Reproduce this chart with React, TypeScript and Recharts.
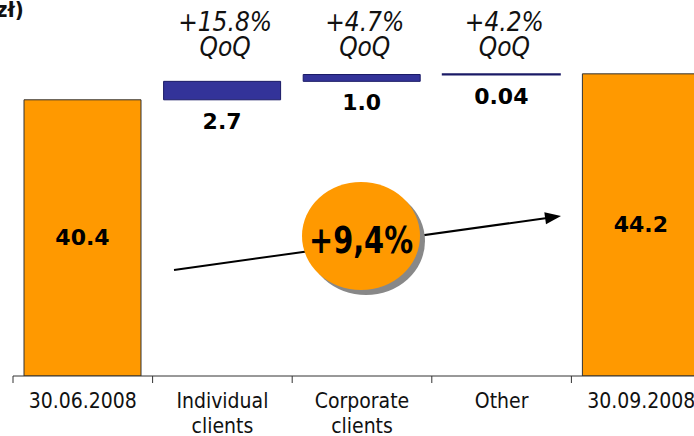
import React from "react";
import { BarChart, Bar, XAxis, YAxis, Cell, LabelList, Customized } from "recharts";

const categories = ["30.06.2008", "Individual clients", "Corporate clients", "Other", "30.09.2008"];
const values = [40.4, 2.7, 1.0, 0.04, 44.2];
const bases = [0, 40.4, 43.1, 44.1, 0];
const valueLabels = ["40.4", "2.7", "1.0", "0.04", "44.2"];
const qoqLabels = ["", "+15.8%", "+4.7%", "+4.2%", ""];
const isTotal = [true, false, false, false, true];

const data = categories.map((name, i) => ({
  name,
  base: bases[i],
  value: values[i],
}));

const CHART_W = 711;
const CHART_H = 436;
const LEFT = 13;
const BAND = (CHART_W - LEFT) / categories.length;

const ORANGE = "#FF9900";
const BLUE = "#333399";
const TEXT = "#111";

function CategoryTick(props: any) {
  const { x, y, payload } = props;
  const lines = String(payload.value).split(" ");
  return (
    <g>
      <line x1={x - BAND / 2} x2={x - BAND / 2} y1={y} y2={y + 7} stroke="#333" />
      <text
        x={x}
        y={y + 32}
        textAnchor="middle"
        fill={TEXT}
        fontSize={21}
        fontFamily="'DejaVu Sans Condensed', 'DejaVu Sans', sans-serif"
      >
        {lines.map((l, i) => (
          <tspan key={i} x={x} dy={i ? 25 : 0}>
            {l}
          </tspan>
        ))}
      </text>
    </g>
  );
}

function ValueLabel(props: any) {
  const { x, y, width, height, index } = props;
  const cx = x + width / 2;
  const ty = isTotal[index] ? y + height / 2 + 7 : y + height + 29;
  return (
    <text
      x={cx}
      y={ty}
      textAnchor="middle"
      fill="#000"
      fontSize={22}
      fontWeight="bold"
      fontFamily="'DejaVu Sans', sans-serif"
    >
      {valueLabels[index]}
    </text>
  );
}

function QoqLabel(props: any) {
  const { x, width, index } = props;
  if (!qoqLabels[index]) return null;
  const cx = x + width / 2 + 3;
  return (
    <text
      textAnchor="middle"
      fill={TEXT}
      fontSize={26}
      fontStyle="italic"
      fontFamily="'DejaVu Sans Condensed', 'DejaVu Sans', sans-serif"
    >
      <tspan x={cx} y={31}>{qoqLabels[index]}</tspan>
      <tspan x={cx} y={56}>QoQ</tspan>
    </text>
  );
}

// growth arrow + bubble
function Overlay() {
  const x1 = 174, y1 = 270, x2 = 561, y2 = 216;
  const dx = x2 - x1, dy = y2 - y1;
  const len = Math.sqrt(dx * dx + dy * dy);
  const ux = dx / len, uy = dy / len;
  const bx = x2 - ux * 16, by = y2 - uy * 16;
  const head = `${x2},${y2} ${bx - uy * 6},${by + ux * 6} ${bx + uy * 6},${by - ux * 6}`;
  return (
    <g>
      <line x1={x1} y1={y1} x2={bx + ux * 2} y2={by + uy * 2} stroke="#000" strokeWidth={2} />
      <polygon points={head} fill="#000" />
      <ellipse cx={366} cy={241} rx={59} ry={54} fill="#888" />
      <ellipse cx={361} cy={236} rx={59} ry={54} fill={ORANGE} />
      <text
        x={361}
        y={253}
        textAnchor="middle"
        fontSize={38}
        fontWeight="bold"
        fill="#000"
        textLength={104}
        lengthAdjust="spacingAndGlyphs"
        fontFamily="'DejaVu Sans Condensed', 'DejaVu Sans', sans-serif"
      >
        +9,4%
      </text>
      <text
        x={-4}
        y={17}
        fontSize={22}
        fontWeight="bold"
        fill={TEXT}
        fontFamily="'DejaVu Sans Condensed', 'DejaVu Sans', sans-serif"
      >
        zł)
      </text>
    </g>
  );
}

export default function App() {
  return (
    <div
      style={{
        position: "absolute",
        left: 0,
        top: 0,
        width: 694,
        height: 436,
        overflow: "hidden",
        background: "#fff",
      }}
    >
      <BarChart
        width={CHART_W}
        height={CHART_H}
        data={data}
        margin={{ top: 0, right: 0, left: LEFT, bottom: 0 }}
        barSize={117}
      >
        <XAxis
          dataKey="name"
          height={60}
          interval={0}
          tickSize={0}
          tickMargin={0}
          tickLine={false}
          axisLine={{ stroke: "#333" }}
          tick={<CategoryTick />}
        />
        <YAxis hide domain={[0, 55]} allowDataOverflow />
        <Bar dataKey="base" stackId="a" fill="transparent" isAnimationActive={false} />
        <Bar dataKey="value" stackId="a" isAnimationActive={false}>
          {data.map((d, i) => (
            <Cell
              key={d.name}
              fill={isTotal[i] ? ORANGE : BLUE}
              stroke={isTotal[i] ? "#333" : "#1a1a66"}
              strokeWidth={i === 3 ? 2 : 1}
            />
          ))}
          <LabelList dataKey="value" content={<ValueLabel />} />
          <LabelList dataKey="value" content={<QoqLabel />} />
        </Bar>
        <Customized component={Overlay} />
      </BarChart>
    </div>
  );
}
